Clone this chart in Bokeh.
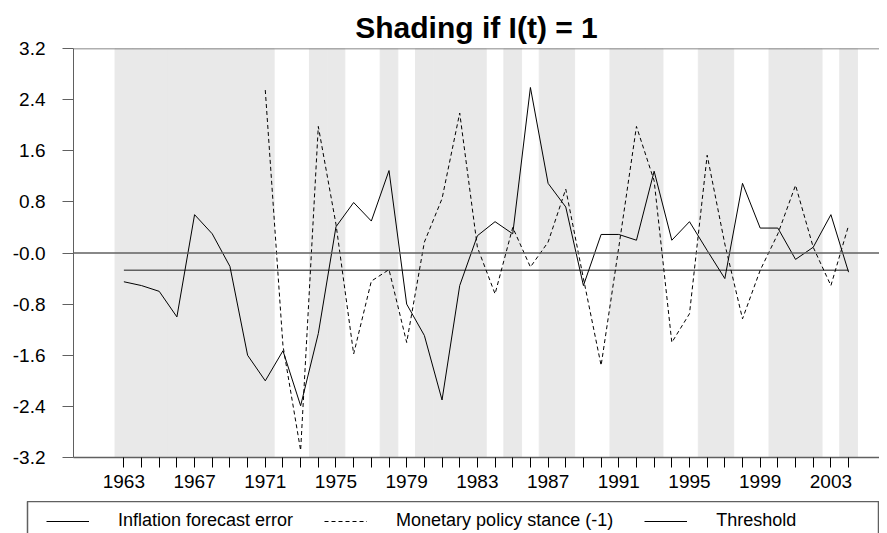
from bokeh.plotting import figure
from bokeh.layouts import column
from bokeh.models import Span, FixedTicker, Legend, LegendItem
from bokeh.embed import file_html
from bokeh.resources import INLINE

# datos
years = list(range(1963, 2005))
inflation_error = [-0.45, -0.51, -0.60, -1.00, 0.60, 0.30, -0.21, -1.60, -2.00, -1.53,
                   -2.39, -1.26, 0.41, 0.79, 0.50, 1.29, -0.80, -1.29, -2.30, -0.51,
                   0.27, 0.49, 0.30, 2.59, 1.09, 0.72, -0.51, 0.29, 0.29, 0.20,
                   1.28, 0.20, 0.49, 0.04, -0.40, 1.09, 0.39, 0.39, -0.10, 0.09,
                   0.60, -0.30]
policy_years = list(range(1971, 2005))
policy_stance = [2.55, -1.45, -3.09, 1.98, 0.45, -1.58, -0.44, -0.26, -1.40, 0.17,
                 0.85, 2.19, 0.09, -0.64, 0.40, -0.22, 0.17, 1.00, -0.40, -1.76,
                 0.09, 1.98, 1.13, -1.40, -0.95, 1.53, 0.14, -1.03, -0.27, 0.30,
                 1.06, 0.09, -0.51, 0.43]
threshold = -0.27
indicator = [1, 1, 1, 1, 1, 1, 1, 1, 1, 0, 0, 1, 1, 0, 0, 1, 0, 1, 1, 1,
             1, 0, 1, 0, 1, 1, 0, 0, 1, 1, 1, 0, 0, 1, 1, 0, 0, 1, 1, 1,
             0, 1]
y_ticks = [-3.2, -2.4, -1.6, -0.8, 0.0, 0.8, 1.6, 2.4, 3.2]
x_labels = list(range(1963, 2004, 4))

FONT = "Liberation Sans"
GRAY = "#606060"
SHADE = "#e9e9e9"

p = figure(width=879, height=501, x_range=(1960.15, 2005.75), y_range=(-3.2, 3.2),
           output_backend="svg", toolbar_location=None, tools="",
           title="Shading if I(t) = 1",
           min_border_left=73, min_border_right=0, min_border_top=48, min_border_bottom=44)
p.frame_align = False
p.title.align = "center"
p.title.text_font = FONT
p.title.text_font_size = "30px"
p.title.text_font_style = "bold"
p.title.text_color = "black"
p.grid.visible = False
p.outline_line_color = None
p.background_fill_color = "white"

# sombreado
shade_x = [y for y, i in zip(years, indicator) if i == 1]
p.vbar(x=shade_x, width=1.0, top=3.2, bottom=-3.2, fill_color=SHADE,
       line_color=SHADE, line_width=1)

p.add_layout(Span(location=3.2, dimension="width", line_color=GRAY, line_width=1.5))
p.add_layout(Span(location=0.0, dimension="width", line_color=GRAY, line_width=1.5))

r_thr = p.line(years, [threshold] * len(years), line_color=GRAY, line_width=1.5)
r_inf = p.line(years, inflation_error, line_color="black", line_width=1)
r_pol = p.line(policy_years, policy_stance, line_color="black", line_width=1, line_dash="4 3")

# ejes
p.yaxis.ticker = FixedTicker(ticks=y_ticks)
p.yaxis.major_label_overrides = {v: ("-0.0" if v == 0 else f"{v:.1f}") for v in y_ticks}
p.yaxis.minor_tick_line_color = None
p.yaxis.major_tick_out = 11
p.yaxis.major_tick_in = 0
p.yaxis.axis_line_color = GRAY
p.yaxis.major_tick_line_color = GRAY
p.yaxis.major_label_standoff = 17

p.xaxis.ticker = FixedTicker(ticks=years)
p.xaxis.major_label_overrides = {y: (str(y) if y in x_labels else "") for y in years}
p.xaxis.minor_tick_line_color = None
p.xaxis.major_tick_out = 10
p.xaxis.major_tick_in = 0
p.xaxis.axis_line_color = GRAY
p.xaxis.axis_line_width = 1.5
p.xaxis.major_tick_line_color = "black"
p.xaxis.major_label_standoff = 7

for ax in (p.xaxis, p.yaxis):
    ax.major_label_text_font = FONT
    ax.major_label_text_font_size = "19px"
    ax.major_label_text_color = "black"

# figura solo para la leyenda; su marco hace de caja
lg = figure(width=879, height=40, x_range=(0, 1), y_range=(0, 1),
            output_backend="svg", toolbar_location=None, tools="",
            min_border=0, min_border_left=27)
lg.frame_align = False
lg.axis.visible = False
lg.grid.visible = False
lg.outline_line_color = GRAY
lg.outline_line_width = 1.5
l1 = lg.line([0, 0], [2, 2], line_color="black", line_width=1)
l2 = lg.line([0, 0], [2, 2], line_color="black", line_width=1, line_dash="4 3")
l3 = lg.line([0, 0], [2, 2], line_color="black", line_width=1)

legend = Legend(items=[
    LegendItem(label="Inflation forecast error", renderers=[l1]),
    LegendItem(label="Monetary policy stance (-1)", renderers=[l2]),
    LegendItem(label="Threshold", renderers=[l3]),
], orientation="horizontal", location=(19, 10), label_text_font=FONT,
    label_text_font_size="18px", label_text_color="black", glyph_width=43,
    label_standoff=29, spacing=31, border_line_color=None,
    padding=9, margin=0, background_fill_alpha=0)
legend.label_height = 20
lg.add_layout(legend, "center")

layout = column(p, lg, spacing=0)
open("out.html", "w").write(file_html(layout, INLINE))
